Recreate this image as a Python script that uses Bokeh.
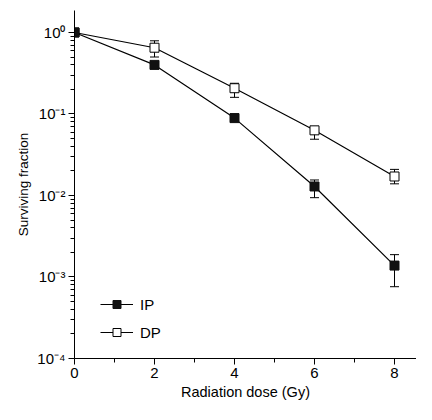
from bokeh.plotting import figure
from bokeh.models import (ColumnDataSource, Whisker, TeeHead, FixedTicker,
                          CustomJSTickFormatter, Legend, LegendItem, Range1d)
from bokeh.embed import file_html
from bokeh.resources import INLINE

dose = [0, 2, 4, 6, 8]
ip = [1.0, 0.40, 0.089, 0.0129, 0.00138]
ip_upper = [1.05, 0.44, 0.100, 0.0155, 0.00188]
ip_lower = [0.95, 0.36, 0.080, 0.0094, 0.00076]
dp = [1.0, 0.65, 0.207, 0.063, 0.0171]
dp_upper = [1.05, 0.79, 0.238, 0.070, 0.0209]
dp_lower = [0.95, 0.50, 0.160, 0.049, 0.0139]

x_ticks = [0, 2, 4, 6, 8]
x_minor = [1, 3, 5, 7]
y_ticks = [1e-4, 1e-3, 1e-2, 1e-1, 1.0]

FONT = "Liberation Sans"

p = figure(width=416, height=404, y_axis_type="log",
           x_range=Range1d(0, 8.55), y_range=Range1d(1e-4, 1.86),
           output_backend="svg", toolbar_location=None,
           min_border_left=74, min_border_right=0,
           min_border_top=10, min_border_bottom=46)
p.outline_line_color = None
p.xgrid.visible = False
p.ygrid.visible = False
p.background_fill_color = "white"

ip_src = ColumnDataSource(dict(x=dose, y=ip, upper=ip_upper, lower=ip_lower))
dp_src = ColumnDataSource(dict(x=dose, y=dp, upper=dp_upper, lower=dp_lower))

for src in (ip_src, dp_src):
    w = Whisker(source=src, base="x", upper="upper", lower="lower",
                dimension="height", level="underlay",
                line_color="black", line_width=1,
                upper_head=TeeHead(size=9, line_color="black", line_width=1),
                lower_head=TeeHead(size=9, line_color="black", line_width=1))
    p.add_layout(w)

l_dp = p.line("x", "y", source=dp_src, line_color="black", line_width=1.2)
s_dp = p.scatter("x", "y", source=dp_src, marker="square", size=9,
                 fill_color="white", line_color="black", line_width=1)
l_ip = p.line("x", "y", source=ip_src, line_color="black", line_width=1.2)
s_ip = p.scatter("x", "y", source=ip_src, marker="square", size=9,
                 fill_color="#111111", line_color="#111111")

legend = Legend(items=[LegendItem(label="IP", renderers=[l_ip, s_ip]),
                       LegendItem(label="DP", renderers=[l_dp, s_dp])],
                location=(26, 16), padding=0, margin=0, spacing=8,
                glyph_width=33, glyph_height=20, label_height=20,
                label_standoff=7, label_text_font=FONT,
                label_text_font_size="15px", label_text_color="black",
                border_line_color=None, background_fill_alpha=0)
p.add_layout(legend, "center")

# axes
p.xaxis.ticker = FixedTicker(ticks=x_ticks, minor_ticks=x_minor)
minor_y = [m * 10.0 ** k for k in range(-4, 1) for m in range(2, 10)]
p.yaxis.ticker = FixedTicker(ticks=y_ticks, minor_ticks=minor_y)
p.yaxis.formatter = CustomJSTickFormatter(code="""
const e = Math.round(Math.log10(tick));
const sup = {'-':'\u207b','0':'\u2070','1':'\u00b9','2':'\u00b2','3':'\u00b3','4':'\u2074'};
return '10' + String(e).split('').map(c => sup[c]).join('');
""")

for ax in (p.xaxis, p.yaxis):
    ax.axis_line_color = "black"
    ax.axis_line_width = 1
    ax.major_tick_line_color = "black"
    ax.minor_tick_line_color = "black"
    ax.major_tick_in = 0
    ax.major_tick_out = 6
    ax.minor_tick_in = 0
    ax.minor_tick_out = 4
    ax.major_label_text_font = FONT
    ax.major_label_text_font_size = "15px"
    ax.major_label_text_color = "black"
    ax.axis_label_text_font = FONT
    ax.axis_label_text_font_style = "normal"
    ax.axis_label_text_color = "black"

p.xaxis.axis_label = "Radiation dose (Gy)"
p.yaxis.axis_label = "Surviving fraction"
p.xaxis.axis_label_text_font_size = "14.5px"
p.yaxis.axis_label_text_font_size = "13.5px"
p.xaxis.major_label_standoff = 3
p.xaxis.axis_label_standoff = 3
p.yaxis.major_label_standoff = 3
p.yaxis.axis_label_standoff = 3

open("out.html", "w").write(file_html(p, INLINE))
